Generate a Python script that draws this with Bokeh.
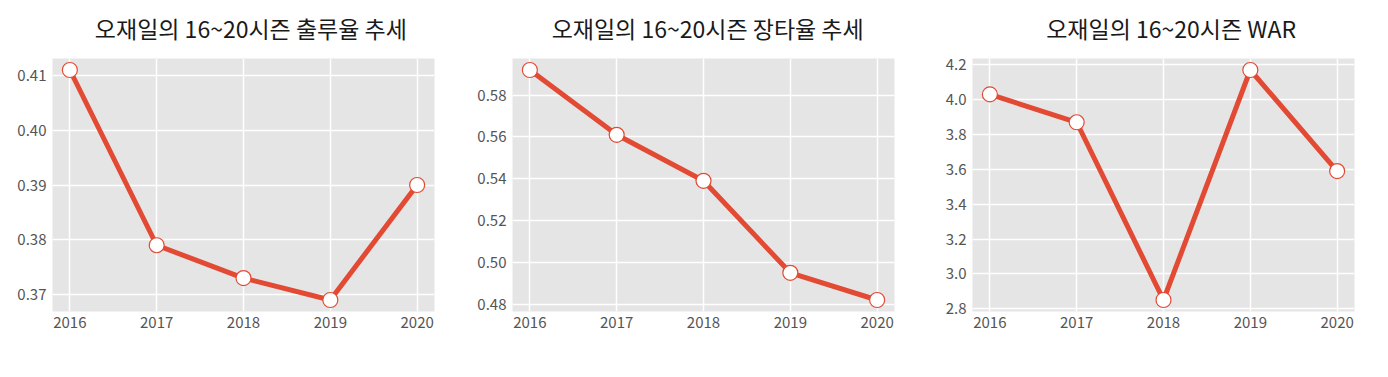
from bokeh.plotting import figure
from bokeh.layouts import row, column
from bokeh.models import Range1d, FixedTicker, NumeralTickFormatter, ColumnDataSource
from bokeh.core.properties import value
from bokeh.embed import file_html
from bokeh.resources import INLINE

years = [2016, 2017, 2018, 2019, 2020]
obp = [0.411, 0.379, 0.373, 0.369, 0.390]
slg = [0.592, 0.561, 0.539, 0.495, 0.482]
war = [4.03, 3.87, 2.85, 4.17, 3.59]

titles = ["오재일의 16~20시즌 출루율 추세", "오재일의 16~20시즌 장타율 추세", "오재일의 16~20시즌 WAR"]
yticks_list = [
    [0.37, 0.38, 0.39, 0.40, 0.41],
    [0.48, 0.50, 0.52, 0.54, 0.56, 0.58],
    [2.8, 3.0, 3.2, 3.4, 3.6, 3.8, 4.0, 4.2],
]
yfmts = ["0.00", "0.00", "0.0"]
series = [obp, slg, war]

FONT = "Noto Sans CJK KR"
RED = "#E24A33"

borders_lr = [(52, 34), (44, 34), (44, 26)]
FRAME_W = 382
FRAME_H = 253
TITLE_H = 50
TOP_PAD = 8


def title_fig(i):
    left, right = borders_lr[i]
    w = left + FRAME_W + right
    t = figure(width=w, height=TITLE_H, x_range=Range1d(0, w), y_range=Range1d(0, TITLE_H),
               min_border=0, output_backend="svg", toolbar_location=None)
    t.axis.visible = False
    t.grid.visible = False
    t.outline_line_color = None
    t.background_fill_color = "white"
    t.border_fill_color = "white"
    t.text(x=[left + FRAME_W / 2], y=[TITLE_H - 27], text=[titles[i]],
           text_align="center", text_baseline="middle",
           text_font=value(FONT), text_font_size="23px", text_color="#1a1a1a")
    return t


def make(i, vals):
    lo, hi = min(vals), max(vals)
    pad = 0.05 * (hi - lo)
    p = figure(
        frame_width=FRAME_W, frame_height=FRAME_H,
        min_border_left=borders_lr[i][0], min_border_right=borders_lr[i][1],
        min_border_top=TOP_PAD, min_border_bottom=30,
        x_range=Range1d(years[0] - 0.2, years[-1] + 0.2),
        y_range=Range1d(lo - pad, hi + pad),
        output_backend="svg", toolbar_location=None,
    )
    p.background_fill_color = "#E5E5E5"
    p.border_fill_color = "white"
    p.outline_line_color = None
    p.xaxis.ticker = FixedTicker(ticks=years)
    p.yaxis.ticker = FixedTicker(ticks=yticks_list[i])
    p.yaxis.formatter = NumeralTickFormatter(format=yfmts[i])
    for ax in (p.xaxis[0], p.yaxis[0]):
        ax.axis_line_color = None
        ax.major_tick_line_color = None
        ax.minor_tick_line_color = None
        ax.major_tick_out = 0
        ax.major_tick_in = 0
        ax.major_label_text_font = FONT
        ax.major_label_text_font_size = "15px"
        ax.major_label_text_color = "#555555"
    p.yaxis.major_label_standoff = 6
    p.xaxis.major_label_standoff = 5
    p.grid.grid_line_color = "white"
    p.grid.grid_line_width = 1.5
    src = ColumnDataSource(dict(x=years, y=vals))
    p.line("x", "y", source=src, line_color=RED, line_width=5)
    p.scatter("x", "y", source=src, size=15, fill_color="white", line_color=RED, line_width=1.2)
    return p


cols = [column(title_fig(i), make(i, s), spacing=0) for i, s in enumerate(series)]
layout = row(*cols, spacing=0)
open("out.html", "w").write(file_html(layout, INLINE))
